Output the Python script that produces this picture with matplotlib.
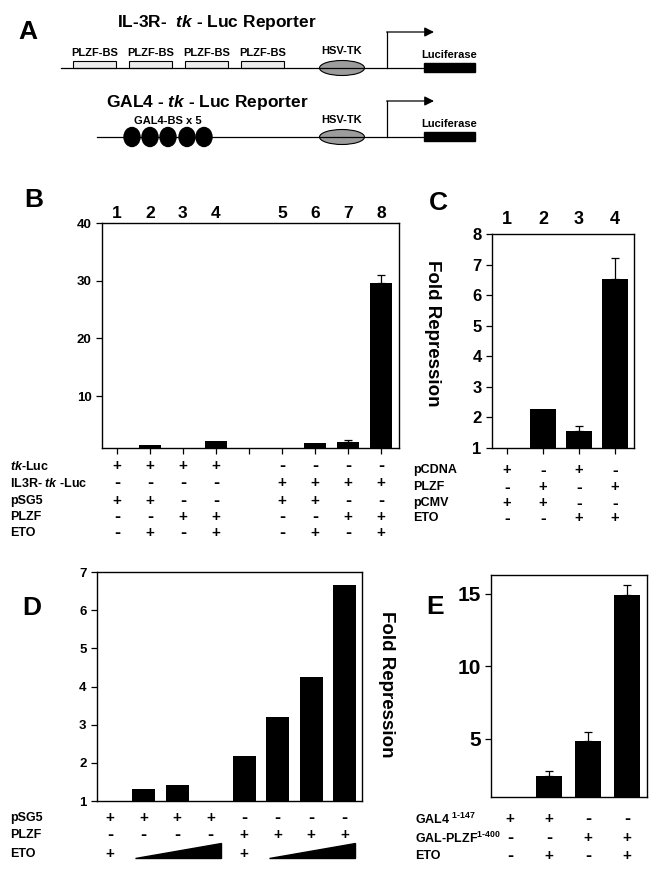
import numpy as np
import matplotlib.pyplot as plt
from matplotlib.patches import Rectangle, Ellipse, Polygon
from matplotlib.transforms import blended_transform_factory

plt.rcParams['font.family'] = ['Liberation Sans', 'DejaVu Sans']
plt.rcParams['font.weight'] = 'bold'
plt.rcParams['mathtext.fontset'] = 'custom'
plt.rcParams['mathtext.it'] = 'Liberation Sans:italic:bold'
plt.rcParams['mathtext.rm'] = 'Liberation Sans:bold'
plt.rcParams['mathtext.bf'] = 'Liberation Sans:bold'

# ---------- data ----------
# B: tk-Luc vs IL3R-tk-Luc reporter
b_lanes = ["1", "2", "3", "4", "5", "6", "7", "8"]
b_fold = [1.0, 1.5, 1.0, 2.2, 1.0, 1.9, 2.0, 29.6]
b_err = [0, 0, 0, 0, 0, 0, 0.4, 1.4]
b_rows = [r"$\mathit{tk}$-Luc", r"IL3R- $\mathit{tk}$ -Luc", "pSG5", "PLZF", "ETO"]
b_table = ["++++----", "----++++", "++--++--", "--++--++", "-+-+-+-+"]

# C: pCDNA / pCMV
c_lanes = ["1", "2", "3", "4"]
c_fold = [1.0, 2.27, 1.55, 6.52]
c_err = [0, 0, 0.17, 0.68]
c_rows = ["pCDNA", "PLZF", "pCMV", "ETO"]
c_table = ["+-+-", "-+-+", "++--", "--++"]

# D: ETO dose series ("^" = increasing amount)
d_fold = [1.0, 1.31, 1.42, 1.0, 2.18, 3.2, 4.25, 6.67]
d_rows = ["pSG5", "PLZF", "ETO"]
d_table = ["++++----", "----++++", "+^^^+^^^"]

# E: GAL4 fusions
e_fold = [1.0, 2.45, 4.86, 14.95]
e_err = [0, 0.35, 0.65, 0.65]
e_rows = [r"GAL4 $^{\mathrm{1\text{-}147}}$", r"GAL-PLZF$^{\mathrm{1\text{-}400}}$", "ETO"]
e_table = ["++--", "--++", "-+-+"]

W, H = 659, 872
fig = plt.figure(figsize=(W / 100, H / 100), dpi=100)

# overlay axes in pixel coords for labels / schematic
ov = fig.add_axes([0, 0, 1, 1])
ov.set_xlim(0, W)
ov.set_ylim(H, 0)
ov.axis('off')


def add_ax(l, t, r, b):
    ax = fig.add_axes([l / W, 1 - b / H, (r - l) / W, (b - t) / H])
    ax.set_facecolor('none')
    for s in ax.spines.values():
        s.set_linewidth(1.0)
    ax.tick_params(direction='out', length=4, width=0.9)
    return ax


def draw_ramp(ax, xs, y):
    tr = blended_transform_factory(ax.transData, ov.transData)
    x0, x1 = xs[0] - 0.25, xs[-1] + 0.3
    ax.add_patch(Polygon([(x0, y + 4), (x1, y + 4), (x1, y - 11)],
                         closed=True, color='black', transform=tr, clip_on=False))


def draw_table(ax, pos, table, rows, row_y, label_x, sign_size=11):
    tr = blended_transform_factory(ax.transData, ov.transData)
    for line, lab, y in zip(table, rows, row_y):
        ov.text(label_x, y, lab, fontsize=9, ha='left', va='center')
        ramp = []
        for x, ch in zip(pos, line):
            if ch == '^':
                ramp.append(x)
                continue
            if ramp:
                draw_ramp(ax, ramp, y)
                ramp = []
            size = sign_size if ch == '+' else sign_size + 2
            ax.text(x, y, ch, transform=tr, fontsize=size,
                    ha='center', va='center', clip_on=False)
        if ramp:
            draw_ramp(ax, ramp, y)


def bars(ax, pos, vals, err=None, width=0.68):
    vals = np.asarray(vals)
    ax.bar(pos, vals - 1, bottom=1, width=width, color='black')
    if err is not None:
        err = np.asarray(err)
        m = err > 0
        ax.errorbar(np.asarray(pos)[m], vals[m],
                    yerr=[np.zeros(m.sum()), err[m]], fmt='none',
                    ecolor='black', elinewidth=0.9, capsize=3, capthick=0.9)


# ---------- panel A schematic ----------
ov.text(28, 32, "A", fontsize=19, ha='center', va='center')
ov.text(217, 23, r"IL-3R-  $\mathit{tk}$ - Luc Reporter", fontsize=12.5,
        ha='center', va='center')
ov.text(207, 103, r"GAL4 - $\mathit{tk}$ - Luc Reporter", fontsize=12.5,
        ha='center', va='center')

for y0, x_start in [(68, 61), (137, 97)]:
    ov.plot([x_start, 424], [y0, y0], color='black', lw=0.9)
    ov.add_patch(Ellipse((342, y0), 45, 15, facecolor='#9c9c9c',
                         edgecolor='black', lw=0.8))
    ov.text(342, y0 - 12, "HSV-TK", fontsize=8, ha='center', va='bottom')
    ov.add_patch(Rectangle((424, y0 - 5), 51, 9, color='black'))
    ov.text(449, y0 - 8, "Luciferase", fontsize=8, ha='center', va='bottom')
    ov.plot([387, 387], [y0, y0 - 36], color='black', lw=0.9)
    ov.annotate("", xy=(434, y0 - 36), xytext=(386.6, y0 - 36),
                arrowprops=dict(arrowstyle='-|>', color='black', lw=0.9,
                                mutation_scale=14, shrinkA=0, shrinkB=0))

for xb in [73, 129, 185, 241]:
    ov.add_patch(Rectangle((xb, 61), 43, 7, facecolor='#ececec',
                           edgecolor='black', lw=0.8))
    ov.text(xb + 21.5, 58, "PLZF-BS", fontsize=8, ha='center', va='bottom')

for xc in [132, 150, 168, 187, 204]:
    ov.add_patch(Ellipse((xc, 137), 16, 19, color='black'))
ov.text(168, 126, "GAL4-BS x 5", fontsize=8, ha='center', va='bottom')

# ---------- panel B ----------
axB = add_ax(102, 223, 399, 448)
posB = [i + (i >= 4) for i in range(len(b_fold))]
bars(axB, posB, b_fold, b_err)
axB.set_xlim(-0.45, 8.55)
axB.set_ylim(1, 40)
axB.set_yticks([10, 20, 30, 40])
axB.set_xticks(range(9))
axB.set_xticklabels([])
axB.tick_params(axis='y', labelsize=9.5)
trB = blended_transform_factory(axB.transData, ov.transData)
for x, lab in zip(posB, b_lanes):
    axB.text(x, 213, lab, transform=trB, fontsize=12.5, ha='center', va='center')
ov.text(34, 200, "B", fontsize=19, ha='center', va='center')
draw_table(axB, posB, b_table, b_rows, [466, 483, 501, 517, 533], 10)

# ---------- panel C ----------
axC = add_ax(492, 234, 634, 448)
posC = list(range(len(c_fold)))
bars(axC, posC, c_fold, c_err, width=0.7)
axC.set_xlim(-0.42, 3.53)
axC.set_ylim(1, 8)
axC.set_yticks(range(1, 9))
axC.set_xticks(posC)
axC.set_xticklabels([])
axC.tick_params(axis='y', labelsize=12)
trC = blended_transform_factory(axC.transData, ov.transData)
for x, lab in zip(posC, c_lanes):
    axC.text(x, 219, lab, transform=trC, fontsize=13, ha='center', va='center')
ov.text(438, 203, "C", fontsize=19, ha='center', va='center')
ov.text(432, 333, "Fold Repression", fontsize=13.5, rotation=270,
        ha='center', va='center')
draw_table(axC, posC, c_table, c_rows, [470, 487, 503, 518], 413, sign_size=10.5)

# ---------- panel D ----------
axD = add_ax(97, 572, 362, 801)
posD = list(range(len(d_fold)))
bars(axD, posD, d_fold, width=0.69)
axD.set_xlim(-0.39, 7.52)
axD.set_ylim(1, 7)
axD.set_yticks(range(1, 8))
axD.set_xticks([])
axD.tick_params(axis='y', labelsize=9.5)
ov.text(32, 608, "D", fontsize=19, ha='center', va='center')
ov.text(387, 684, "Fold Repression", fontsize=13.5, rotation=270,
        ha='center', va='center')
draw_table(axD, posD, d_table, d_rows, [818, 835, 854], 10)

# ---------- panel E ----------
axE = add_ax(491, 575, 647, 797)
posE = list(range(len(e_fold)))
bars(axE, posE, e_fold, e_err, width=0.67)
axE.set_xlim(-0.49, 3.51)
axE.set_ylim(1, 16.3)
axE.set_yticks([5, 10, 15])
axE.set_xticks([])
axE.tick_params(axis='y', labelsize=15)
ov.text(435, 607, "E", fontsize=19, ha='center', va='center')
draw_table(axE, posE, e_table, e_rows, [819, 838, 856], 415)

fig.savefig("out.png", dpi=100)
